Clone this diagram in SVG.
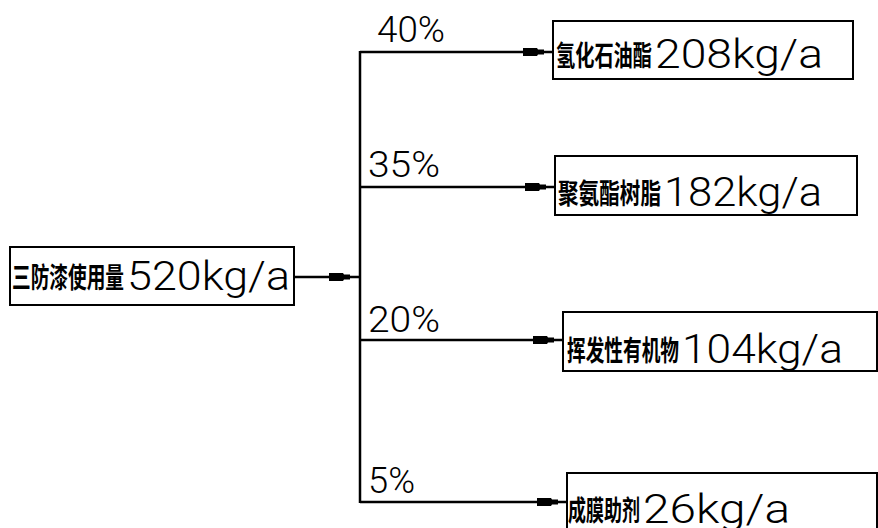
<svg xmlns="http://www.w3.org/2000/svg" width="878" height="528" viewBox="0 0 878 528">
<style>
.box{fill:#fff;stroke:#000;stroke-width:2}
.cn{font-family:"Noto Sans CJK SC","Noto Sans CJK JP",sans-serif;font-weight:700;font-size:28px;fill:#000}
.num{font-family:"Roboto","Liberation Sans",sans-serif;font-weight:300;font-size:40px;fill:#000}
.pct{font-family:"Roboto","Liberation Sans",sans-serif;font-weight:300;font-size:36px;fill:#000}
.ln{fill:none;stroke:#000;stroke-width:2.5}
</style>
<defs>
<marker id="ah" markerUnits="userSpaceOnUse" viewBox="-32 -6 34 12" refX="0" refY="0" markerWidth="34" markerHeight="12" orient="auto">
<path d="M-30,-4 L-16,-4 L-15,-2.5 L-9,-2.5 L-9,2.5 L-15,2.5 L-16,4 L-30,4 Z" fill="#000"/>
</marker>
</defs>
<rect width="878" height="528" fill="#fff"/>
<g id="connectors">
<path class="ln" d="M294,277 L359,277" marker-end="url(#ah)"/>
<path class="ln" d="M360,51 L360,503"/>
<path class="ln" d="M360,52 L553,52" marker-end="url(#ah)"/>
<path class="ln" d="M360,187 L555,187" marker-end="url(#ah)"/>
<path class="ln" d="M360,340 L563,340" marker-end="url(#ah)"/>
<path class="ln" d="M360,502 L567,502" marker-end="url(#ah)"/>
<text class="pct" x="377" y="42" textLength="68" lengthAdjust="spacingAndGlyphs">40%</text>
<text class="pct" x="368" y="177" textLength="72" lengthAdjust="spacingAndGlyphs">35%</text>
<text class="pct" x="368" y="332" textLength="72" lengthAdjust="spacingAndGlyphs">20%</text>
<text class="pct" x="368" y="493" textLength="47" lengthAdjust="spacingAndGlyphs">5%</text>
</g>
<g id="source">
<rect class="box" x="10" y="247" width="284" height="58"/>
<text class="cn" x="12" y="288" textLength="112" lengthAdjust="spacingAndGlyphs">三防漆使用量</text>
<text class="num" x="127" y="290" textLength="163" lengthAdjust="spacingAndGlyphs">520kg/a</text>
</g>
<g id="n1">
<rect class="box" x="553" y="21" width="300" height="58"/>
<text class="cn" x="556" y="66" textLength="96" lengthAdjust="spacingAndGlyphs">氢化石油酯</text>
<text class="num" x="655" y="68" textLength="168" lengthAdjust="spacingAndGlyphs">208kg/a</text>
</g>
<g id="n2">
<rect class="box" x="555" y="156" width="302" height="59"/>
<text class="cn" x="558" y="204" textLength="103" lengthAdjust="spacingAndGlyphs">聚氨酯树脂</text>
<text class="num" x="664" y="206" textLength="158" lengthAdjust="spacingAndGlyphs">182kg/a</text>
</g>
<g id="n3">
<rect class="box" x="563" y="312" width="314" height="59"/>
<text class="cn" x="567" y="361" textLength="112" lengthAdjust="spacingAndGlyphs">挥发性有机物</text>
<text class="num" x="682" y="363" textLength="161" lengthAdjust="spacingAndGlyphs">104kg/a</text>
</g>
<g id="n4">
<rect class="box" x="567" y="473" width="310" height="70"/>
<text class="cn" x="568" y="521" textLength="72" lengthAdjust="spacingAndGlyphs">成膜助剂</text>
<text class="num" x="643" y="523" textLength="147" lengthAdjust="spacingAndGlyphs">26kg/a</text>
</g>
</svg>
